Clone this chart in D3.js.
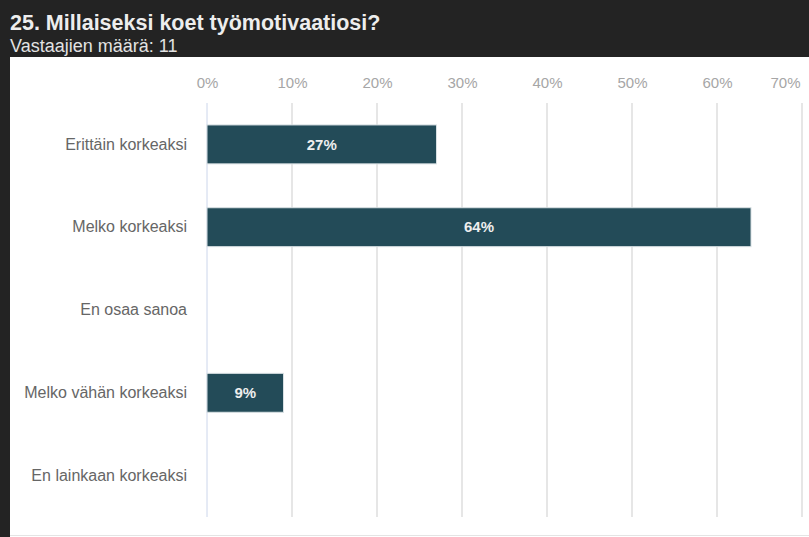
<!DOCTYPE html>
<html>
<head>
<meta charset="utf-8">
<script src="https://cdn.jsdelivr.net/npm/d3@7"></script>
<style>
  html, body { margin: 0; padding: 0; background: #fff; }
  svg { display: block; font-family: "Liberation Sans", Arial, sans-serif; }
</style>
</head>
<body>
<svg id="chart" width="809" height="537"></svg>
<script>
// Survey question 25: how respondents rate their work motivation
const title = "25. Millaiseksi koet työmotivaatiosi?";
const subtitle = "Vastaajien määrä: 11";
const categories = ["Erittäin korkeaksi", "Melko korkeaksi", "En osaa sanoa", "Melko vähän korkeaksi", "En lainkaan korkeaksi"];
const percentages = [27, 64, 0, 9, 0];
const tickValues = [0, 10, 20, 30, 40, 50, 60, 70];

const svg = d3.select("#chart");
const W = 809, H = 537;

// dark frame: header band and left strip
svg.append("rect").attr("x", 0).attr("y", 0).attr("width", W).attr("height", 57).attr("fill", "#232323");
svg.append("rect").attr("x", 0).attr("y", 0).attr("width", 10).attr("height", H).attr("fill", "#232323");
svg.append("line").attr("x1", 10).attr("x2", W).attr("y1", 535.5).attr("y2", 535.5)
  .attr("stroke", "#e4e4e4").attr("stroke-width", 1);

svg.append("text").attr("x", 10).attr("y", 30)
  .attr("fill", "#ededed").attr("font-size", 21.5).attr("font-weight", "bold")
  .text(title);
svg.append("text").attr("x", 10).attr("y", 52)
  .attr("fill", "#e2e2e2").attr("font-size", 18)
  .text(subtitle);

const plot = { left: 207, right: 802, top: 103, bottom: 517 };

const x = d3.scaleLinear().domain([0, 70]).range([plot.left, plot.right]);
const y = d3.scaleBand().domain(categories).range([plot.top, plot.bottom]).paddingInner(0.53).paddingOuter(0.265);

// vertical gridlines
svg.append("g").selectAll("line").data(tickValues.filter(d => d > 0)).join("line")
  .attr("x1", d => x(d)).attr("x2", d => x(d))
  .attr("y1", plot.top).attr("y2", plot.bottom)
  .attr("stroke", "#e6e6e6").attr("stroke-width", 2);
svg.append("line")
  .attr("x1", x(0)).attr("x2", x(0)).attr("y1", plot.top).attr("y2", plot.bottom)
  .attr("stroke", "#ccd6eb").attr("stroke-width", 1);

// top percentage axis labels
const xAxis = d3.axisTop(x).tickValues(tickValues).tickFormat(d => d + "%").tickSize(0).tickPadding(0);
const gx = svg.append("g").attr("transform", "translate(0,88)").call(xAxis);
gx.select(".domain").remove();
gx.selectAll("text")
  .attr("fill", "#a6a6a6").attr("font-size", 15)
  .attr("font-family", "Liberation Sans, Arial, sans-serif")
  .attr("text-anchor", d => d === 70 ? "end" : "middle")
  .attr("dx", d => d === 70 ? -2 : 0);

// category labels
const yAxis = d3.axisLeft(y).tickSize(0).tickPadding(20);
const gy = svg.append("g").attr("transform", `translate(${plot.left},0)`).call(yAxis);
gy.select(".domain").remove();
gy.selectAll("text")
  .attr("fill", "#666").attr("font-size", 16)
  .attr("font-family", "Liberation Sans, Arial, sans-serif");

// bars
const rows = categories.map((c, i) => ({ c, v: percentages[i] })).filter(d => d.v > 0);
svg.append("g").selectAll("rect").data(rows).join("rect")
  .attr("x", x(0)).attr("y", d => y(d.c))
  .attr("width", d => x(d.v) - x(0)).attr("height", y.bandwidth())
  .attr("fill", "#234b58").attr("stroke", "#d8e0e3").attr("stroke-width", 1);

svg.append("g").selectAll("text").data(rows).join("text")
  .attr("x", d => (x(0) + x(d.v)) / 2).attr("y", d => y(d.c) + y.bandwidth() / 2)
  .attr("dy", "0.35em").attr("text-anchor", "middle")
  .attr("fill", "#eeeeee").attr("font-size", 15).attr("font-weight", "bold")
  .text(d => d.v + "%");
</script>
</body>
</html>
